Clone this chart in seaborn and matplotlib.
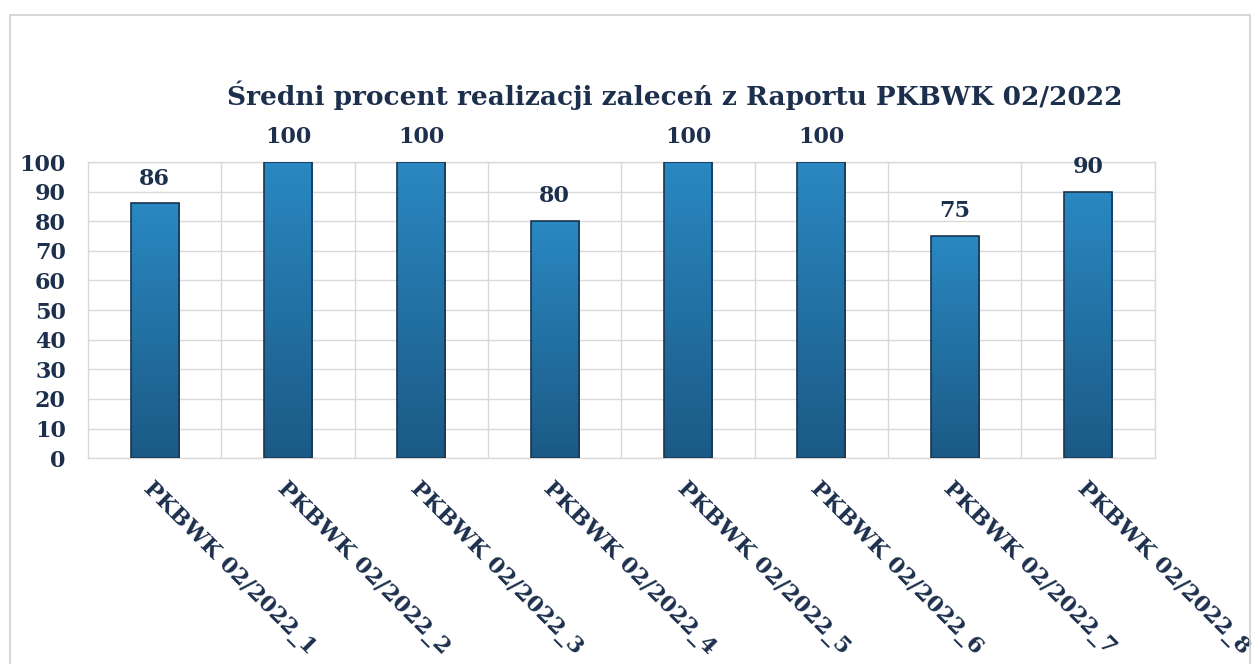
import numpy as np
import pandas as pd
import seaborn as sns
import matplotlib.pyplot as plt
from matplotlib.patches import Rectangle
from matplotlib.colors import LinearSegmentedColormap

# Data
categories = ["PKBWK 02/2022_1", "PKBWK 02/2022_2", "PKBWK 02/2022_3", "PKBWK 02/2022_4",
              "PKBWK 02/2022_5", "PKBWK 02/2022_6", "PKBWK 02/2022_7", "PKBWK 02/2022_8"]
values = [86, 100, 100, 80, 100, 100, 75, 90]
y_ticks = [0, 10, 20, 30, 40, 50, 60, 70, 80, 90, 100]
title = "Średni procent realizacji zaleceń z Raportu PKBWK 02/2022"

sns.set_theme(style="white")
plt.rcParams['font.family'] = ['DejaVu Serif', 'DejaVu Sans']

navy = "#1c2f4c"
grid_col = "#d9d9d9"

df = pd.DataFrame({"cat": categories, "val": values})

fig = plt.figure(figsize=(12.58, 6.64), dpi=100)
ax = fig.add_axes([0.070, 0.310, 0.848, 0.446])

sns.barplot(data=df, x="cat", y="val", ax=ax, width=0.36, color="#2278b0",
            edgecolor="#1a3550", linewidth=1.2, zorder=3)

# gradient fill clipped to each bar
cmap = LinearSegmentedColormap.from_list("bar", ["#1b5a85", "#2a88c2"])
grad = np.linspace(0, 1, 256).reshape(-1, 1)
for bar in ax.patches:
    x0, y0 = bar.get_x(), bar.get_y()
    w, h = bar.get_width(), bar.get_height()
    im = ax.imshow(grad, cmap=cmap, aspect="auto", origin="lower",
                   extent=[x0, x0 + w, y0, y0 + h], zorder=3.5)
    im.set_clip_path(bar)
    bar.set_facecolor("none")
    bar.set_zorder(4)

ax.set_xlim(-0.5, len(categories) - 0.5)
ax.set_ylim(0, 100)
ax.set_yticks(y_ticks)
ax.set_xlabel("")
ax.set_ylabel("")

# Excel-like grid
ax.set_xticks(np.arange(len(categories)) + 0.5, minor=True)
ax.grid(axis="y", which="major", color=grid_col, linewidth=1, zorder=0)
ax.grid(axis="x", which="minor", color=grid_col, linewidth=1, zorder=0)
for s in ax.spines.values():
    s.set_color(grid_col)
    s.set_linewidth(1)
ax.tick_params(axis="both", which="both", length=0)
ax.tick_params(axis="y", pad=16)

for lab in ax.get_yticklabels():
    lab.set_fontsize(16)
    lab.set_fontweight("bold")
    lab.set_color(navy)

ax.set_xticks(range(len(categories)))
ax.set_xticklabels(categories, rotation=-45, ha="left", va="top",
                   rotation_mode="anchor", fontsize=16, fontweight="bold", color=navy)
ax.tick_params(axis="x", pad=14)

for bar, v in zip(ax.patches, values):
    ax.annotate(str(v), (bar.get_x() + bar.get_width() / 2, v), xytext=(0, 10),
                textcoords="offset points", ha="center", va="bottom",
                fontsize=16, fontweight="bold", color=navy, annotation_clip=False)

fig.text(0.536, 0.857, title, ha="center", va="center", fontsize=19,
         fontweight="bold", color=navy)

# outer chart frame
fig.patches.append(Rectangle((0.008, -0.05), 0.986, 1.027, transform=fig.transFigure,
                             fill=False, edgecolor="#d0d0d0", linewidth=1.2))

fig.savefig("out.png", dpi=100)
